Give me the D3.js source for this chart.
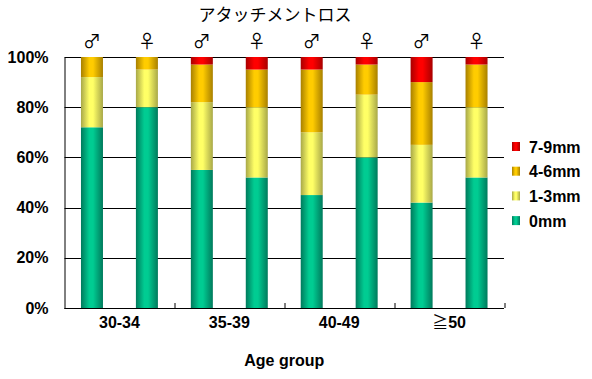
<!DOCTYPE html>
<html>
<head>
<meta charset="utf-8">
<script src="https://cdn.jsdelivr.net/npm/d3@7"></script>
<style>
  body { margin: 0; background: #fff; }
  text { font-family: Arial, "Liberation Sans", sans-serif; }
</style>
</head>
<body>
<svg id="chart" width="592" height="379"></svg>
<script>
// data
var groups = ["30-34", "35-39", "40-49", "≧50"];
var sexes = ["♂", "♀"];
var seriesNames = ["0mm", "1-3mm", "4-6mm", "7-9mm"];
// one entry per bar: 30-34 ♂, 30-34 ♀, 35-39 ♂, ...
var mm0 = [72, 80, 55, 52, 45, 60, 42, 52];
var mm1to3 = [20, 15, 27, 28, 25, 25, 23, 28];
var mm4to6 = [8, 5, 15, 15, 25, 12, 25, 17];
var mm7to9 = [0, 0, 3, 5, 5, 3, 10, 3];
var yTicks = [0, 20, 40, 60, 80, 100];

var colors = {
    "0mm": ["#007a5c", "#00cc92"],
    "1-3mm": ["#a8a848", "#ffff66"],
    "4-6mm": ["#a88000", "#ffcc00"],
    "7-9mm": ["#a80000", "#ff0000"]
};

var svg = d3.select("#chart"),
    margin = {top: 57, right: 88, bottom: 71, left: 64.5},
    width = 592 - margin.left - margin.right,
    height = 379 - margin.top - margin.bottom;

var defs = svg.append("defs");
seriesNames.forEach(function (s, i) {
    var grad = defs.append("linearGradient")
        .attr("id", "grad" + i)
        .attr("x1", "0%").attr("x2", "100%")
        .attr("y1", "0%").attr("y2", "0%");
    grad.append("stop").attr("offset", "0%").attr("stop-color", colors[s][0]);
    grad.append("stop").attr("offset", "38%").attr("stop-color", colors[s][1]);
    grad.append("stop").attr("offset", "55%").attr("stop-color", colors[s][1]);
    grad.append("stop").attr("offset", "100%").attr("stop-color", colors[s][0]);
});

var bars = [];
groups.forEach(function (g, gi) {
    sexes.forEach(function (s, si) {
        var k = gi * 2 + si;
        bars.push({group: g, sex: s, "0mm": mm0[k], "1-3mm": mm1to3[k], "4-6mm": mm4to6[k], "7-9mm": mm7to9[k]});
    });
});

var x0 = d3.scaleBand().domain(groups).range([0, width]);
var x1 = d3.scaleBand().domain(sexes).range([0, x0.bandwidth()]);
var y = d3.scaleLinear().domain([0, 100]).range([height, 0]);
var barW = 22;

var g = svg.append("g")
    .attr("transform", "translate(" + margin.left + "," + margin.top + ")");

// gridlines
g.selectAll(".grid")
    .data(yTicks)
    .enter()
    .append("line")
    .attr("x1", 0).attr("x2", width)
    .attr("y1", function (d) { return Math.round(y(d)) + 0.5; })
    .attr("y2", function (d) { return Math.round(y(d)) + 0.5; })
    .attr("stroke", "#000");

// stacked bars
var stack = d3.stack().keys(seriesNames);
var layers = stack(bars);

g.selectAll(".layer")
    .data(layers)
    .enter()
    .append("g")
    .attr("fill", function (d, i) { return "url(#grad" + i + ")"; })
    .selectAll("rect")
    .data(function (d) { return d; })
    .enter()
    .append("rect")
    .attr("x", function (d) { return x0(d.data.group) + x1(d.data.sex) + (x1.bandwidth() - barW) / 2; })
    .attr("y", function (d) { return y(d[1]); })
    .attr("width", barW)
    .attr("height", function (d) { return y(d[0]) - y(d[1]); });

// sex symbols above bars
g.selectAll(".sex")
    .data(bars)
    .enter()
    .append("text")
    .attr("x", function (d) { return x0(d.group) + x1(d.sex) + x1.bandwidth() / 2; })
    .attr("y", -9)
    .attr("text-anchor", "middle")
    .style("font-family", "'Noto Sans CJK JP', sans-serif")
    .style("font-size", "18px")
    .text(function (d) { return d.sex; });

// y axis
var yAxis = g.append("g")
    .call(d3.axisLeft(y).tickValues(yTicks).tickSize(0).tickPadding(16)
        .tickFormat(function (d) { return d + "%"; }));
yAxis.select(".domain").attr("stroke", "#000");
yAxis.selectAll("text")
    .style("font-size", "16px")
    .style("font-weight", "bold")
    .attr("fill", "#000");

// x axis
var xAxis = g.append("g")
    .attr("transform", "translate(0," + height + ")")
    .call(d3.axisBottom(x0).tickSize(0).tickPadding(9).tickFormat(function () { return ""; }));
xAxis.select(".domain").remove();
xAxis.selectAll(".tick text").each(function (d) {
    var t = d3.select(this)
        .style("font-size", "16px")
        .style("font-weight", "bold")
        .attr("fill", "#000");
    if (d.charAt(0) === "≧") {
        t.append("tspan")
            .style("font-family", "'Noto Sans CJK JP', sans-serif")
            .style("font-weight", "normal")
            .text("≧");
        t.append("tspan").text(d.slice(1));
    } else {
        t.text(d);
    }
});
g.append("line")
    .attr("x1", 0).attr("x2", width)
    .attr("y1", height + 0.5).attr("y2", height + 0.5)
    .attr("stroke", "#000");
g.selectAll(".xtick")
    .data(groups)
    .enter()
    .append("line")
    .attr("x1", function (d) { return Math.round(x0(d) + x0.bandwidth()) + 0.5; })
    .attr("x2", function (d) { return Math.round(x0(d) + x0.bandwidth()) + 0.5; })
    .attr("y1", height)
    .attr("y2", height - 5)
    .attr("stroke", "#000");

// axis title
svg.append("text")
    .attr("x", margin.left + width / 2)
    .attr("y", 366)
    .attr("text-anchor", "middle")
    .style("font-size", "16px")
    .style("font-weight", "bold")
    .text("Age group");

// chart title
svg.append("text")
    .attr("x", 275)
    .attr("y", 21)
    .attr("text-anchor", "middle")
    .style("font-family", "'Noto Sans CJK JP', sans-serif")
    .style("font-size", "17px")
    .text("アタッチメントロス");

// legend
var legend = svg.append("g")
    .attr("transform", "translate(512,142)");
var legendItems = seriesNames.slice().reverse();
var li = legend.selectAll(".item")
    .data(legendItems)
    .enter()
    .append("g")
    .attr("transform", function (d, i) { return "translate(0," + (i * 24.7) + ")"; });
li.append("rect")
    .attr("width", 8)
    .attr("height", 9)
    .attr("fill", function (d) { return "url(#grad" + seriesNames.indexOf(d) + ")"; });
li.append("text")
    .attr("x", 17)
    .attr("y", 10.5)
    .style("font-size", "16px")
    .style("font-weight", "bold")
    .text(function (d) { return d; });
</script>
</body>
</html>
